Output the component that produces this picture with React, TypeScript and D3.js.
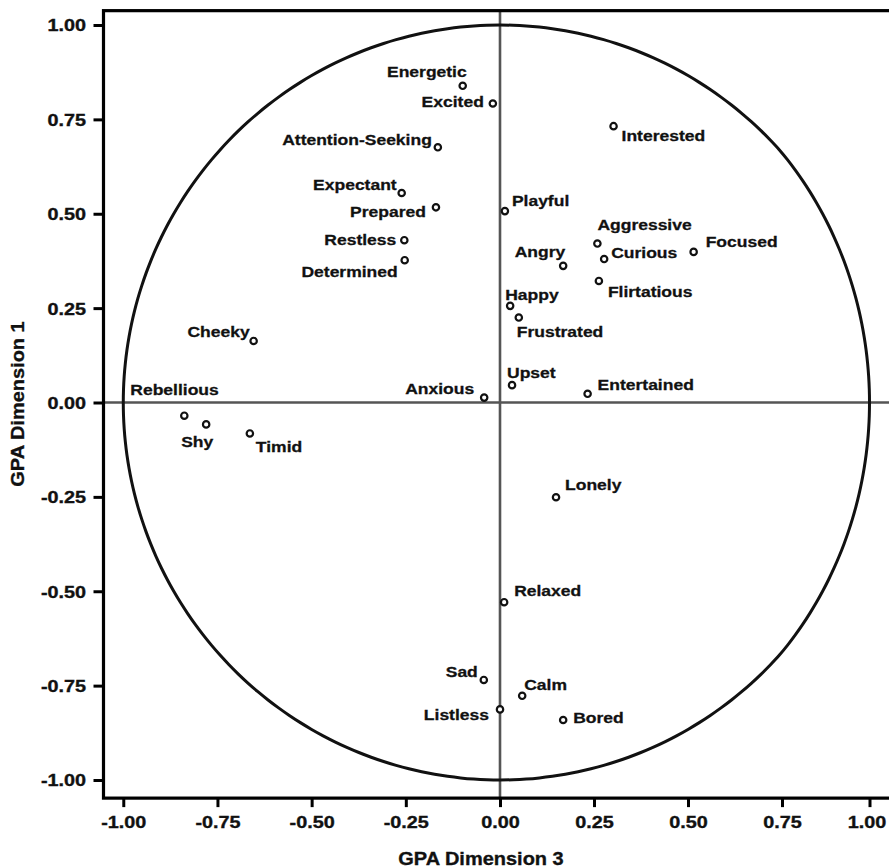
import { useEffect, useRef } from 'react'
import * as d3 from 'd3'

const emotions = [
  'Energetic', 'Excited', 'Attention-Seeking', 'Interested', 'Expectant', 'Prepared',
  'Playful', 'Restless', 'Determined', 'Aggressive', 'Curious', 'Focused', 'Angry',
  'Flirtatious', 'Happy', 'Frustrated', 'Cheeky', 'Upset', 'Anxious', 'Entertained',
  'Rebellious', 'Shy', 'Timid', 'Lonely', 'Relaxed', 'Sad', 'Calm', 'Listless', 'Bored',
]
// GPA Dimension 3 (x)
const dim3 = [
  -0.099, -0.019, -0.165, 0.302, -0.261, -0.17,
  0.013, -0.254, -0.253, 0.259, 0.277, 0.515, 0.168,
  0.263, 0.027, 0.05, -0.654, 0.032, -0.042, 0.233,
  -0.838, -0.78, -0.664, 0.149, 0.011, -0.043, 0.059, 0.0, 0.168,
]
// GPA Dimension 1 (y)
const dim1 = [
  0.839, 0.792, 0.676, 0.732, 0.555, 0.517,
  0.507, 0.43, 0.377, 0.421, 0.38, 0.399, 0.362,
  0.322, 0.256, 0.225, 0.163, 0.046, 0.013, 0.023,
  -0.035, -0.058, -0.082, -0.251, -0.529, -0.735, -0.777, -0.813, -0.841,
]
const tickValues = [-1, -0.75, -0.5, -0.25, 0, 0.25, 0.5, 0.75, 1]

// where each label sits relative to its point: anchor, dx, dy
const labelPlace: [string, number, number][] = [
  ['end', 4, -9], ['end', -9, 3], ['end', -6, -2], ['start', 8, 15], ['end', -5, -3], ['end', -10, 10],
  ['start', 7, -5], ['end', -8, 5], ['end', -7, 17], ['start', 0, -14], ['start', 7, -1], ['start', 12, -5], ['end', 2, -9],
  ['start', 9, 16], ['start', -5, -6], ['start', -2, 19], ['end', -4, -4], ['start', -5, -7], ['end', -10, -4], ['start', 10, -4],
  ['start', -54, -21], ['start', -25, 23], ['start', 6, 19], ['start', 9, -7], ['start', 10, -6], ['end', -6, -3], ['start', 2, -6], ['end', -11, 11], ['start', 10, 3],
]

const FONT = '"Liberation Sans", Arial, Helvetica, sans-serif'

function GpaPlot() {
  const ref = useRef<SVGSVGElement>(null)

  useEffect(() => {
    const svg = d3.select(ref.current)
    svg.selectAll('*').remove()

    // the source figure is slightly squeezed past 0.75 on the x axis
    const x = d3.scaleLinear().domain([-1.0525, 0, 0.75, 1, 1.06]).range([103.5, 500, 782, 869.5, 890.5])
    const y = d3.scaleLinear().domain([-1, 1]).range([780, 25])

    const left = x(-1.0525)
    const right = x(1.06)
    const top = y(1.038)
    const bottom = y(-1.048)

    // zero lines
    svg.append('line')
      .attr('x1', left).attr('x2', right).attr('y1', y(0)).attr('y2', y(0))
      .attr('stroke', '#555').attr('stroke-width', 2.6)
    svg.append('line')
      .attr('x1', x(0)).attr('x2', x(0)).attr('y1', top).attr('y2', bottom)
      .attr('stroke', '#555').attr('stroke-width', 2.6)

    // unit circle, passed through the same scales
    const ring = d3.range(0, 361, 2).map((a) => [Math.cos((a * Math.PI) / 180), Math.sin((a * Math.PI) / 180)])
    svg.append('path')
      .attr('d', d3.line<number[]>().x((p) => x(p[0])).y((p) => y(p[1])).curve(d3.curveCatmullRomClosed)(ring.slice(0, -1)))
      .attr('fill', 'none').attr('stroke', '#111').attr('stroke-width', 3)

    // frame
    svg.append('rect')
      .attr('x', left).attr('y', top)
      .attr('width', right - left + 6).attr('height', bottom - top)
      .attr('fill', 'none').attr('stroke', '#000').attr('stroke-width', 3.2)

    const fmt = (d: d3.NumberValue) => (+d).toFixed(2)

    svg.append('g')
      .attr('transform', `translate(${left},0)`)
      .call(d3.axisLeft(y).tickValues(tickValues).tickFormat(fmt).tickSize(10))
      .call((g) => g.select('.domain').remove())
      .call((g) => g.selectAll('line').attr('stroke', '#000').attr('stroke-width', 3))
      .call((g) => g.selectAll('text')
        .attr('x', 0).attr('dy', '0.36em')
        .attr('transform', 'translate(-17.5,0) scale(1.2,1)')
        .attr('font-family', FONT).attr('font-weight', 'bold').attr('font-size', 16.5)
        .attr('fill', '#111').attr('stroke', '#111').attr('stroke-width', 0.35))

    svg.append('g')
      .attr('transform', `translate(0,${bottom})`)
      .call(d3.axisBottom(x).tickValues(tickValues).tickFormat(fmt).tickSize(9))
      .call((g) => g.select('.domain').remove())
      .call((g) => g.selectAll('line').attr('stroke', '#000').attr('stroke-width', 3))
      .call((g) => g.selectAll('text')
        .attr('y', 0).attr('dy', 0)
        .attr('transform', (d) => `translate(${+d === 1 ? -3 : 0},30) scale(1.2,1)`)
        .attr('font-family', FONT).attr('font-weight', 'bold').attr('font-size', 16.5)
        .attr('fill', '#111').attr('stroke', '#111').attr('stroke-width', 0.35))

    // axis titles
    svg.append('text')
      .attr('transform', 'translate(481,865) scale(1.08,1)')
      .attr('text-anchor', 'middle')
      .attr('font-family', FONT).attr('font-weight', 'bold').attr('font-size', 18.5)
      .attr('fill', '#111').attr('stroke', '#111').attr('stroke-width', 0.35)
      .text('GPA Dimension 3')
    svg.append('text')
      .attr('transform', 'translate(23.5,404) rotate(-90) scale(1.08,1)')
      .attr('text-anchor', 'middle')
      .attr('font-family', FONT).attr('font-weight', 'bold').attr('font-size', 18.5)
      .attr('fill', '#111').attr('stroke', '#111').attr('stroke-width', 0.35)
      .text('GPA Dimension 1')

    const idx = d3.range(emotions.length)

    svg.append('g').selectAll('circle')
      .data(idx)
      .join('circle')
      .attr('cx', (i) => x(dim3[i]))
      .attr('cy', (i) => y(dim1[i]))
      .attr('r', 3.2)
      .attr('fill', '#fff')
      .attr('stroke', '#111')
      .attr('stroke-width', 2.2)

    svg.append('g').selectAll('text')
      .data(idx)
      .join('text')
      .attr('transform', (i) => {
        const [, dx, dy] = labelPlace[i]
        return `translate(${x(dim3[i]) + dx},${y(dim1[i]) + dy}) scale(1.13,1)`
      })
      .attr('text-anchor', (i) => labelPlace[i][0])
      .attr('font-family', FONT).attr('font-weight', 'bold').attr('font-size', 15.5)
      .attr('fill', '#111').attr('stroke', '#111').attr('stroke-width', 0.3)
      .text((i) => emotions[i])
  }, [])

  return (
    <svg
      ref={ref}
      width={889}
      height={868}
      style={{ position: 'absolute', left: 0, top: 0, background: '#fff' }}
    />
  )
}

export default function App() {
  return <GpaPlot />
}
